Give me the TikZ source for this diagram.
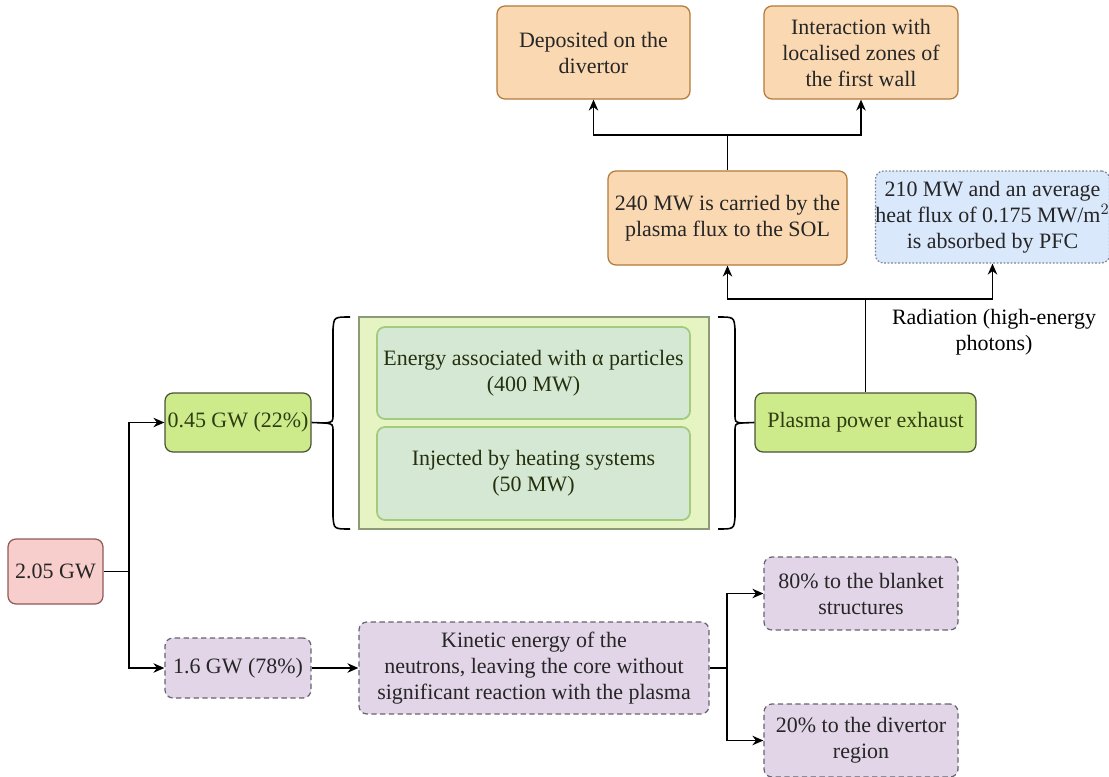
\documentclass[tikz,border=0pt]{standalone}
\usepackage{fontspec}
\setmainfont{Liberation Serif}
\newfontfamily\labelfont{Liberation Serif}
\usetikzlibrary{arrows.meta}

\definecolor{orangefill}{HTML}{FAD9B2}
\definecolor{orangeline}{HTML}{B27A3A}
\definecolor{bluefill}{HTML}{DAE8FC}
\definecolor{blueline}{HTML}{7D8799}
\definecolor{greenfill}{HTML}{CDEB8B}
\definecolor{greenline}{HTML}{4A5238}
\definecolor{greentext}{HTML}{2E3D12}
\definecolor{panelfill}{HTML}{E6F4C4}
\definecolor{panelline}{HTML}{8C9A78}
\definecolor{innerfill}{HTML}{D5E8D4}
\definecolor{innerline}{HTML}{A3CB7E}
\definecolor{redfill}{HTML}{F8CECC}
\definecolor{redline}{HTML}{8E5A58}
\definecolor{purplefill}{HTML}{E1D5E7}
\definecolor{purpleline}{HTML}{67636F}

\tikzset{
  box/.style={draw, rounded corners=0.16cm, align=center, line width=0.7pt,
    inner sep=0pt, text=black!85, font=\labelfont\fontsize{12.5}{14.8}\selectfont},
  boxsize/.style 2 args={minimum width=#1*0.02cm, minimum height=#2*0.02cm},
  orangebox/.style={box, fill=orangefill, draw=orangeline},
  bluebox/.style={box, fill=bluefill, draw=blueline, dash pattern=on 1pt off 1pt},
  greenbox/.style={box, fill=greenfill, draw=greenline, text=greentext},
  innerbox/.style={box, fill=innerfill, draw=innerline, line width=1pt, text=greentext!80!black},
  redbox/.style={box, fill=redfill, draw=redline},
  purplebox/.style={box, fill=purplefill, draw=purpleline, dash pattern=on 3pt off 2pt},
  flow/.style={line width=0.9pt},
  flowarrow/.style={flow, -{Stealth[length=0.22cm, width=0.19cm]}},
  bracket/.style={line width=0.9pt},
}

\begin{document}
\begin{tikzpicture}[x=0.02cm, y=-0.02cm]

\useasboundingbox (0,0) rectangle (1109,777);

% alpha panel
\node[draw=panelline, fill=panelfill, line width=0.7pt, boxsize={350}{212}] (panel) at (534,423) {};

% nodes
{

\node[redbox, boxsize={95}{65}] (total) at (55.5,571.5) {2.05 GW};

\node[greenbox, boxsize={146}{59}] (alpha) at (238,422.5) {0.45 GW (22\%)};
\node[purplebox, boxsize={146}{60}] (neutron) at (238,668) {1.6 GW (78\%)};

\node[innerbox, boxsize={313}{92}] (alphaenergy) at (533.5,373) {Energy associated with α particles\\(400 MW)};
\node[innerbox, boxsize={313}{93}] (heating) at (533.5,473.5) {Injected by heating systems\\(50 MW)};

\node[purplebox, boxsize={350}{92}] (kinetic) at (534,668) {Kinetic energy of the\\neutrons, leaving the core without\\significant reaction with the plasma};
\node[purplebox, boxsize={194}{73}] (blanket) at (861,593.5) {80\% to the blanket\\structures};
\node[purplebox, boxsize={194}{73}] (divregion) at (861,740.5) {20\% to the divertor\\region};

\node[greenbox, boxsize={221}{59}] (exhaust) at (865.5,422.5) {Plasma power exhaust};

\node[orangebox, boxsize={239}{94}] (sol) at (727.5,218) {240 MW is carried by the\\plasma flux to the SOL};
\node[bluebox, boxsize={233}{92}] (pfc) at (992.5,217) {210 MW and an average\\heat flux of 0.175 MW/m$^2$\\is absorbed by PFC};

\node[orangebox, boxsize={193}{93}] (divertor) at (593.5,52.5) {Deposited on the\\divertor};
\node[orangebox, boxsize={194}{93}] (wall) at (861,52.5) {Interaction with\\localised zones of\\the first wall};

\node[align=center, font=\labelfont\fontsize{12.5}{14.8}\selectfont] (radiation) at (994,332.5) {Radiation (high-energy\\photons)};
}

% braces
\coordinate (lefttip) at (325,423);
\coordinate (righttip) at (741,423);
\draw[bracket] (350,317) .. controls (334,317) .. (333,329) -- (333,414) .. controls (333,422) .. (lefttip) .. controls (333,424) .. (333,432) -- (333,517) .. controls (334,529) .. (350,529);
\draw[bracket] (718,317) .. controls (734,317) .. (735,329) -- (735,414) .. controls (735,422) .. (righttip) .. controls (735,424) .. (735,432) -- (735,517) .. controls (734,529) .. (718,529);

% joints
\coordinate (split) at (129,571.5);
\coordinate (nsplit) at (727,668);
\coordinate (rsplit) at (865.5,299);
\coordinate (tsplit) at (727.5,135);

% arrows
{
\draw[flow] (total.east) -- (split);
\draw[flowarrow] (split) |- (alpha.west);
\draw[flowarrow] (split) |- (neutron.west);

\draw[flow] (alpha.east) -- (lefttip);
\draw[flow] (righttip) -- (exhaust.west);

\draw[flowarrow] (neutron.east) -- (kinetic.west);
\draw[flow] (kinetic.east) -- (nsplit);
\draw[flowarrow] (nsplit) |- (blanket.west);
\draw[flowarrow] (nsplit) |- (divregion.west);

\draw[flow] (exhaust.north) -- (rsplit);
\draw[flowarrow] (rsplit) -| (sol.south);
\draw[flowarrow] (rsplit) -| (pfc.south);

\draw[flow] (sol.north) -- (tsplit);
\draw[flowarrow] (tsplit) -| (divertor.south);
\draw[flowarrow] (tsplit) -| (wall.south);
}

\end{tikzpicture}
\end{document}
